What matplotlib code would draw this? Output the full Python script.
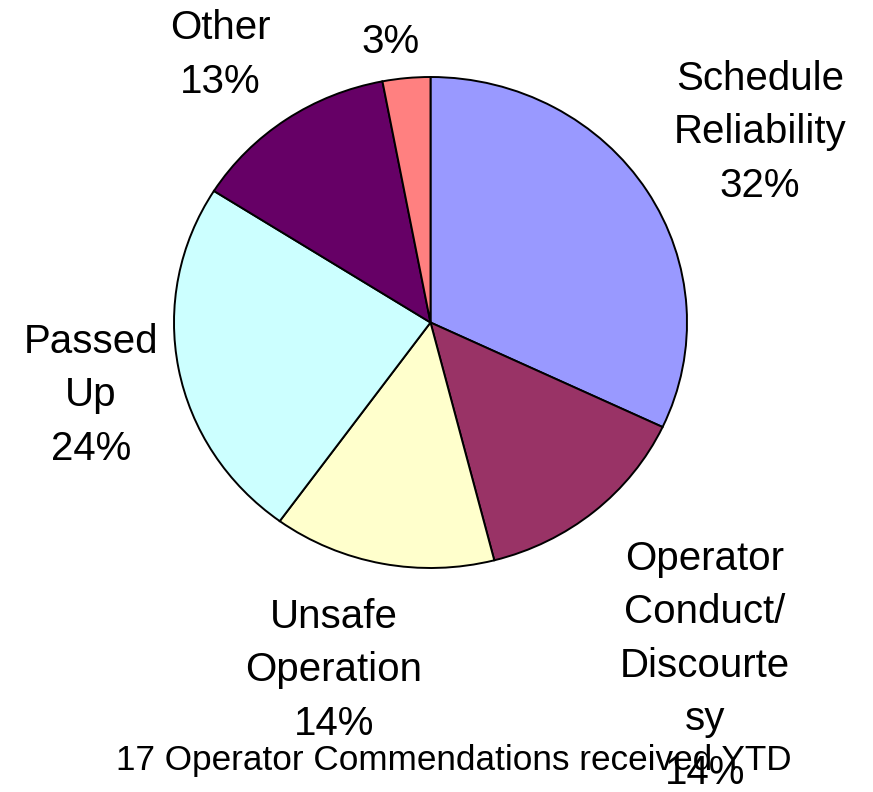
import matplotlib.pyplot as plt

plt.rcParams['font.family'] = ['Liberation Sans', 'DejaVu Sans']

categories = ['Schedule\nReliability', 'Operator\nConduct/\nDiscourte\nsy', 'Unsafe\nOperation',
              'Passed\nUp', 'Other', '']
shares = [32, 14, 14, 24, 13, 3]
colors = ['#9999FF', '#993366', '#FFFFCC', '#CCFFFF', '#660066', '#FF8080']
footnote = '17 Operator Commendations received YTD'

# label anchors in pixels: x centre, baseline of last line
label_pos = [(760, 197), (705, 784), (334, 735), (91, 460), (220, 93), (391, 53)]

W, H = 873, 792
fig = plt.figure(figsize=(W / 100, H / 100), dpi=100)
ax = fig.add_axes([174 / W, 224 / H, 513 / W, 491 / H])
ax.pie(shares, colors=colors, startangle=90, counterclock=False, radius=1,
       wedgeprops=dict(edgecolor='black', linewidth=1.4))
ax.set_aspect('auto')
ax.set_xlim(-1, 1)
ax.set_ylim(-1, 1)
ax.axis('off')

for name, pct, (x, y) in zip(categories, shares, label_pos):
    txt = f'{name}\n{pct}%' if name else f'{pct}%'
    fig.text(x / W, 1 - y / H, txt, ha='center', va='baseline', fontsize=29,
             linespacing=1.52, multialignment='center')

fig.text(454 / W, 1 - 770 / H, footnote, ha='center', va='baseline', fontsize=25.3)

fig.savefig('out.png', dpi=100)
